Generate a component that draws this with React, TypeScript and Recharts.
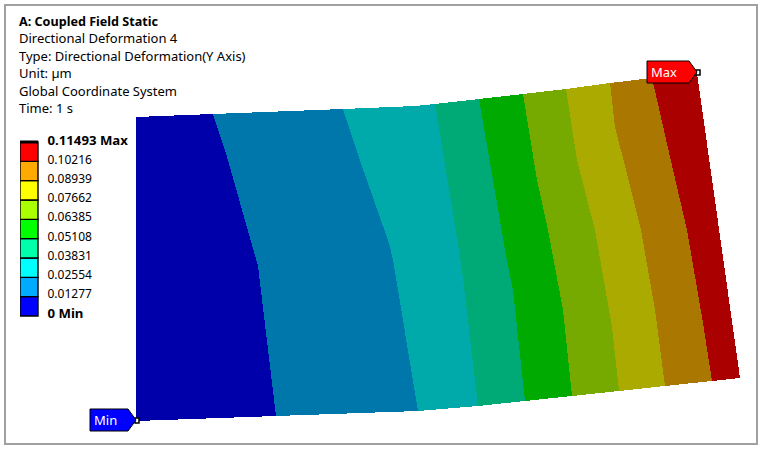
/**
 * Contour plot of a directional deformation result, with its header text and colour legend.
 * The plate is a stack of closed Scatter outlines; the legend is a stacked bar.
 */
import { BarChart, Bar, ScatterChart, Scatter, XAxis, YAxis, ReferenceLine } from 'recharts';

const FONT = '"Noto Sans", sans-serif';

const headerLines = [
  'A: Coupled Field Static',
  'Directional Deformation 4',
  'Type: Directional Deformation(Y Axis)',
  'Unit: µm',
  'Global Coordinate System',
  'Time: 1 s',
];

// Legend
const legendLevels = [0, 0.01277, 0.02554, 0.03831, 0.05108, 0.06385, 0.07662, 0.08939, 0.10216, 0.11493];
const legendColors = ['#0000FF', '#00AAFF', '#00FFFF', '#00FFAA', '#00FF00', '#AAFF00', '#FFFF00', '#FFAA00', '#FF0000'];
const bandColors = ['#0000AA', '#0077AA', '#00AAAA', '#00AA77', '#00AA00', '#77AA00', '#AAAA00', '#AA7700', '#AA0000'];

type Pt = { x: number; y: number };
const pts = (list: number[][]): Pt[] => list.map(([x, y]) => ({ x, y }));

// Contour boundaries, top to bottom, left edge first and right edge last
const contourLines = [
  [[136, 117], [136, 421]],
  [[213, 114], [227, 157], [258, 266], [276, 416]],
  [[343, 109], [364, 172], [389, 243], [393, 260], [418, 411]],
  [[435, 104], [447, 177], [459, 250], [463, 278], [478, 406]],
  [[479, 99], [493, 180], [505, 250], [513, 290], [525, 401]],
  [[523, 94], [537, 180], [548, 230], [563, 310], [572, 396]],
  [[566, 89], [577, 160], [595, 230], [612, 327], [619, 391]],
  [[610, 83], [615, 127], [626, 170], [641, 230], [655, 310], [665, 386]],
  [[652, 78], [673, 170], [687, 230], [703, 323], [712, 381]],
  [[697, 73], [740, 378]],
];
// The top edge of the plate has a slight bend inside the third band
const topBend = [415, 106];

const bands = bandColors.map((color, i) => {
  const left = contourLines[i];
  const right = [...contourLines[i + 1]].reverse();
  const outline = i === 2 ? [...right, topBend, ...left] : [...right, ...left];
  return { color, points: pts(outline) };
});

const minPoint = [{ x: 136, y: 421 }];
const maxPoint = [{ x: 697, y: 73 }];

function Probe({ cx, cy, label, fill, w }: { cx?: number; cy?: number; label: string; fill: string; w: number }) {
  const x = cx ?? 0;
  const y = cy ?? 0;
  // tag hangs to the left of the probed node
  const top = y - 12;
  const bottom = y + 10;
  const d = `M${x - w} ${top}H${x - 8}L${x} ${y - 1}L${x - 8} ${bottom}H${x - w}Z`;
  return (
    <g>
      <rect x={x - 1} y={y - 3} width={4} height={5} fill="#fff" stroke="#000" strokeWidth={1.5} />
      <path d={d} fill={fill} stroke="#000" strokeWidth={1} />
      <text x={x - w + 4} y={y + 4} fill="#fff" fontFamily={FONT} fontSize={13}>{label}</text>
    </g>
  );
}

function LegendTick({ x, y, payload }: any) {
  const v = payload.value as number;
  const isMax = v === legendLevels[legendLevels.length - 1];
  const label = isMax ? `${v} Max` : v === 0 ? '0 Min' : String(v);
  // labels sit a little above the swatch seams
  const offset = -2.7 + 1.7 * (v / legendLevels[9]);
  const bold = isMax || v === 0;
  return (
    <text x={x + 3.5} y={y + offset} dy="0.32em" textAnchor="start" fontFamily={FONT} fontSize={bold ? 13.2 : 12}
      fontWeight={bold ? 700 : 400} fill="#000">
      {label}
    </text>
  );
}

const legendRow: Record<string, number | string> = { name: 'legend' };
legendColors.forEach((_, i) => { legendRow[`s${i}`] = legendLevels[i + 1] - legendLevels[i]; });

export default function App() {
  return (
    <div style={{ position: 'fixed', left: 0, top: 0, width: 762, height: 449, background: '#fff', overflow: 'hidden' }}>
      <div style={{ position: 'absolute', left: 4, top: 4, width: 750, height: 437, border: '2px solid #A0A0A0' }} />

      <div style={{ position: 'absolute', left: 0, top: 0 }}>
        <ScatterChart width={762} height={449} margin={{ top: 0, right: 0, bottom: 0, left: 0 }}>
          <XAxis type="number" dataKey="x" domain={[0, 762]} hide />
          <YAxis type="number" dataKey="y" domain={[0, 449]} reversed hide />
          {bands.map((b, i) => (
            <Scatter key={i} data={b.points} isAnimationActive={false} shape={() => null}
              line={{ fill: b.color, stroke: 'none', shapeRendering: 'crispEdges' } as any}
              lineType="joint" lineJointType="linearClosed" />
          ))}
          <Scatter data={minPoint} isAnimationActive={false}
            shape={(p: any) => <Probe cx={p.cx} cy={p.cy} label="Min" fill="#0000FF" w={46} />} />
          <Scatter data={maxPoint} isAnimationActive={false}
            shape={(p: any) => <Probe cx={p.cx} cy={p.cy} label="Max" fill="#FF0000" w={50} />} />
        </ScatterChart>
      </div>

      <div style={{ position: 'absolute', left: 20, top: 130 }}>
        <BarChart width={125} height={198} data={[legendRow]} barCategoryGap={0}
          margin={{ top: 12, right: 0, bottom: 12, left: 0 }}>
          <XAxis dataKey="name" hide />
          <YAxis orientation="right" type="number" domain={[0, legendLevels[9]]} ticks={legendLevels} interval={0}
            width={107} axisLine={false} tickLine={false} tick={<LegendTick />} tickMargin={0} />
          {legendColors.map((c, i) => (
            <Bar key={i} dataKey={`s${i}`} stackId="scale" fill={c} stroke="#000" strokeWidth={1.4} isAnimationActive={false} />
          ))}
          <ReferenceLine y={legendLevels[9]} stroke="#000" strokeWidth={3} />
        </BarChart>
      </div>

      <div style={{ position: 'absolute', left: 19, top: 13, fontFamily: FONT, fontSize: 13, lineHeight: '17.4px', color: '#000', whiteSpace: 'pre' }}>
        {headerLines.map((t, i) => (
          <div key={i} style={{ fontWeight: i === 0 ? 700 : 400, fontSize: i === 0 ? 12.6 : 13 }}>{t}</div>
        ))}
      </div>
    </div>
  );
}
